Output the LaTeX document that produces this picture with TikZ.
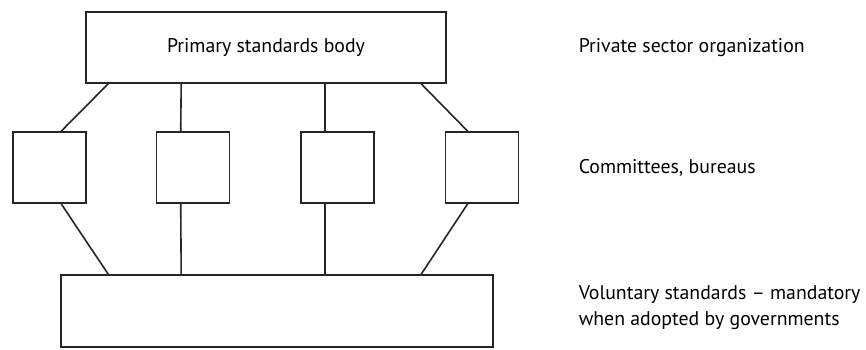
\documentclass[tikz,border=0pt]{standalone}
\usepackage{fontspec}
\setmainfont{PT Sans}
\usepackage{tikz}
\usetikzlibrary{positioning}
\tikzstyle{block} = [draw, fill=white, rectangle, minimum height=71pt, inner sep=0pt]
\tikzstyle{unit} = [block, minimum width=73pt]
\tikzstyle{note} = [anchor=base west, align=left, inner sep=0pt]

\begin{document}
\begin{tikzpicture}[x=1pt, y=-1pt, line width=1.6pt, draw=black!85, font=\fontsize{19.8}{26}\selectfont]
    \useasboundingbox (0,0) rectangle (866,349);
    \node [block, minimum width=360pt] (body) at (266,47.5) {Primary standards body};
    \node [unit] (c1) at (49.5,167.5) {};
    \node [unit] (c2) at (193,167.5) {};
    \node [unit] (c3) at (337.5,167.5) {};
    \node [unit] (c4) at (482,167.5) {};
    \node [block, minimum width=432pt, minimum height=72pt] (base) at (277,311) {};
    \node [note] (org) at (578,52) {Private sector organization};
    \node [note] (com) at (578,173) {Committees, bureaus};
    \node [note] (vol) at (578,325) {Voluntary standards -- mandatory\\when adopted by governments};
    \draw ([xshift=23pt]body.south west) -- ([xshift=49pt]c1.north west);
    \draw ([xshift=96pt]body.south west) -- ([xshift=25pt]c2.north west);
    \draw ([xshift=240pt]body.south west) -- ([xshift=25pt]c3.north west);
    \draw ([xshift=336pt]body.south west) -- ([xshift=23pt]c4.north west);
    \draw ([xshift=49pt]c1.south west) -- ([xshift=48pt]base.north west);
    \draw ([xshift=25pt]c2.south west) -- ([xshift=121pt]base.north west);
    \draw ([xshift=25pt]c3.south west) -- ([xshift=265pt]base.north west);
    \draw ([xshift=23pt]c4.south west) -- ([xshift=361pt]base.north west);
\end{tikzpicture}
\end{document}
